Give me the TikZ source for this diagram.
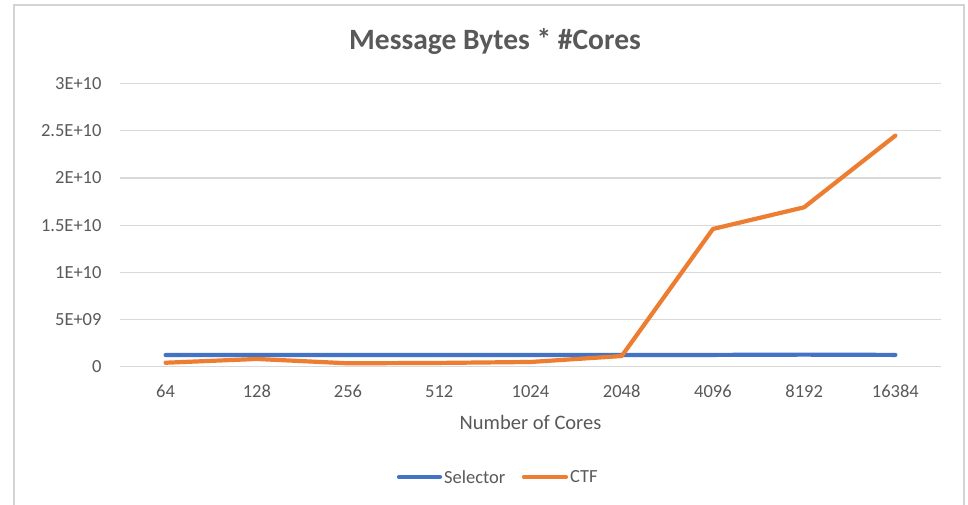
\documentclass[tikz,border=0pt]{standalone}
\usepackage{fontspec}
\setmainfont{Carlito}
\definecolor{txtgray}{HTML}{595959}
\definecolor{gridgray}{HTML}{D9D9D9}
\definecolor{framegray}{HTML}{D4D4D4}
\definecolor{selblue}{HTML}{4472C4}
\definecolor{ctforange}{HTML}{ED7D31}
\tikzset{
  axislabel/.style={text=txtgray, font=\fontsize{18.5}{22}\selectfont, inner sep=0pt},
  titlelabel/.style={text=txtgray, font=\fontsize{29.5}{35}\selectfont\bfseries, inner sep=0pt},
  axistitle/.style={text=txtgray, font=\fontsize{20.5}{24}\selectfont, inner sep=0pt},
  gridline/.style={draw=gridgray, line width=1.3pt},
  series/.style={line width=4.2pt, line cap=round, line join=round},
}
\begin{document}
\begin{tikzpicture}[x=1pt, y=-1pt]
\useasboundingbox (0,0) rectangle (968,505);
\fill[white] (0,0) rectangle (968,505);
% chart frame (open at the bottom edge of the page)
\draw[framegray, line width=1.5pt] (14,510) -- (14,5) -- (964,5) -- (964,510);

% title
\node[titlelabel, anchor=base] (title) at (495,50) {Message Bytes * \#Cores};

% horizontal gridlines and value labels (47.17 px per 5E+09)
\foreach \i/\lab in {0/0, 1/5E+09, 2/1E+10, 3/1.5E+10, 4/2E+10, 5/2.5E+10, 6/3E+10} {
  \coordinate (gl\i) at (120, 366.7-47.17*\i);
  \coordinate (gr\i) at (941, 366.7-47.17*\i);
  \draw[gridline] (gl\i) -- (gr\i);
  \node[axislabel, anchor=east] (ylab\i) at (101.7, 366.7-47.17*\i) {\lab};
}

% category labels
\foreach \i/\lab in {0/64, 1/128, 2/256, 3/512, 4/1024, 5/2048, 6/4096, 7/8192, 8/16384} {
  \node[axislabel] (xlab\i) at (165.6+91.22*\i, 391.5) {\lab};
}
\node[axistitle] (xtitle) at (530.5,422.7) {Number of Cores};

% data points (values in units of 1E+09; 9.433 px per unit)
\foreach \i/\v in {0/1.24, 1/1.25, 2/1.24, 3/1.24, 4/1.25, 5/1.25, 6/1.25, 7/1.28, 8/1.25} {
  \coordinate (s\i) at (165.6+91.22*\i, 366.7-9.433*\v);
}
\foreach \i/\v in {0/0.42, 1/0.82, 2/0.36, 3/0.40, 4/0.50, 5/1.13, 6/14.6, 7/16.9, 8/24.5} {
  \coordinate (c\i) at (165.6+91.22*\i, 366.7-9.433*\v);
}
\draw[series, selblue] (s0) -- (s1) -- (s2) -- (s3) -- (s4) -- (s5) -- (s6) -- (s7) -- (s8);
\draw[series, ctforange] (c0) -- (c1) -- (c2) -- (c3) -- (c4) -- (c5) -- (c6) -- (c7) -- (c8);

% legend
\coordinate (la) at (399,477);
\coordinate (lb) at (440,477);
\draw[series, selblue] (la) -- (lb);
\node[axislabel, anchor=west] (legsel) at (444,477) {Selector};
\coordinate (lc) at (524,477);
\coordinate (ld) at (566,477);
\draw[series, ctforange] (lc) -- (ld);
\node[axislabel, anchor=west] (legctf) at (570,477) {CTF};
\end{tikzpicture}
\end{document}
